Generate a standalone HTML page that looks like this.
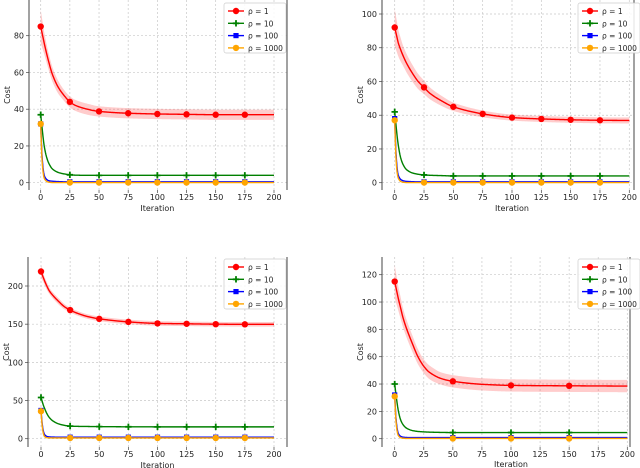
<!DOCTYPE html>
<html><head><meta charset="utf-8">
<style>
html,body{margin:0;padding:0;background:#fff;}
svg{display:block;font-family:"DejaVu Sans","Liberation Sans",sans-serif;}
</style></head>
<body>
<svg id="chart" width="640" height="468" viewBox="0 0 640 468" xmlns="http://www.w3.org/2000/svg"></svg>
<script>
const ITER = [0,1,2,3,5,7,10,15,20,25,30,40,50,75,100,125,150,175,200];
const X_TICKS = [0,25,50,75,100,125,150,175,200];
const LEGEND_LABELS = ["ρ = 1","ρ = 10","ρ = 100","ρ = 1000"];

const P1_RED = [85,82,79,76,70.5,65.5,59,52,47.5,44,42,40,38.8,37.8,37.4,37.2,37,37,37];
const P1_GREEN = [37,31,25,20,14,10.5,7.5,5.6,4.8,4.3,4.1,4,4,4,4,4,4,4,4];
const P1_BLUE = [32,16,8,4,1.8,1.1,0.8,0.6,0.5,0.5,0.5,0.5,0.5,0.5,0.5,0.5,0.5,0.5,0.5];
const P1_ORANGE = [32,14,6,2.5,0.8,0.3,0.1,0.1,0.1,0.1,0.1,0.1,0.1,0.1,0.1,0.1,0.1,0.1,0.1];
const P1_BAND = [9,8,7,6,5,4.5,4,3.5,3,3,3,3,2.8,2.8,2.8,2.8,2.8,2.8,2.8];
const P1_YTICKS = [0,20,40,60,80];

const P2_RED = [92,89,86,83,79,75.5,71,65,60,56.5,53,48.5,45,40.8,38.6,37.8,37.3,37,36.9];
const P2_GREEN = [42,35,28,22.5,15,11,7.8,5.8,5,4.6,4.4,4.2,4,4,4,4,4,4,4];
const P2_BLUE = [38,19,9,4.5,2,1.2,0.8,0.6,0.5,0.5,0.5,0.5,0.5,0.5,0.5,0.5,0.5,0.5,0.5];
const P2_ORANGE = [37,16,6.5,2.8,0.8,0.3,0.1,0.1,0.1,0.1,0.1,0.1,0.1,0.1,0.1,0.1,0.1,0.1,0.1];
const P2_BAND = [11,10,9,8,7,6,5.5,5,4.5,4,3.5,3,2.5,2,1.8,1.8,1.8,1.8,1.8];
const P2_YTICKS = [0,20,40,60,80,100];

const P3_RED = [219,215,211,207,200,194,188,180,173,168.5,165,160,157,153,151,150.5,150,149.8,149.8];
const P3_GREEN = [54,49,44,40,33,28,23.5,19.5,17.5,16.5,16.2,16,15.8,15.6,15.5,15.5,15.5,15.5,15.5];
const P3_BLUE = [37,20,10,5.5,3,2.4,2.1,2,2,2,2,2,2,2,2,2,2,2,2];
const P3_ORANGE = [36,17,7,3,1.4,1.1,1,1,1,1,1,1,1,1,1,1,1,1,1];
const P3_BAND = [8,7,6,5,5,4,4,4,3.5,3,3,3,3,3,3,3,3,3,3];
const P3_YTICKS = [0,50,100,150,200];

const P4_RED = [115,111,107,103,96,89,81,70,60,53,48.5,44,42,39.8,39,38.8,38.7,38.6,38.5];
const P4_GREEN = [40,33,26.5,21,14,10.5,7.8,6,5.3,5,4.8,4.6,4.5,4.5,4.5,4.5,4.5,4.5,4.5];
const P4_BLUE = [32,16,8,4,1.8,1.2,0.9,0.8,0.8,0.8,0.8,0.8,0.8,0.8,0.8,0.8,0.8,0.8,0.8];
const P4_ORANGE = [31,14,6,2.5,0.8,0.4,0.2,0.2,0.2,0.2,0.2,0.2,0.2,0.2,0.2,0.2,0.2,0.2,0.2];
const P4_BAND = [12,11,10,9,8,7,6.5,6,5.5,5,5,4.5,4.5,4.5,4.5,4.5,4.5,4.5,4.5];
const P4_YTICKS = [0,20,40,60,80,100,120];

const NS = "http://www.w3.org/2000/svg";
const svg = document.getElementById('chart');
function mk(tag, attrs, parent){const e=document.createElementNS(NS,tag);for(const k in attrs)e.setAttribute(k,attrs[k]);(parent||svg).appendChild(e);return e;}

const panels = [
 {id:'tl', l:29,r:287,t:0,b:190, x0:40.7,x1:274, y0v:0,y0p:182.7,y1v:80,y1p:35.7, ticks:P1_YTICKS, d:[P1_RED,P1_GREEN,P1_BLUE,P1_ORANGE], band:P1_BAND, mstep:25, tickY:200, labY:211, leg:{x:224,y:3}},
 {id:'tr', l:382,r:634,t:0,b:190, x0:394.7,x1:629.3, y0v:0,y0p:182.7,y1v:100,y1p:14, ticks:P2_YTICKS, d:[P2_RED,P2_GREEN,P2_BLUE,P2_ORANGE], band:P2_BAND, mstep:25, tickY:200, labY:211, leg:{x:578,y:3}},
 {id:'bl', l:28,r:287,t:257,b:447, x0:41,x1:274, y0v:0,y0p:438.7,y1v:200,y1p:286, ticks:P3_YTICKS, d:[P3_RED,P3_GREEN,P3_BLUE,P3_ORANGE], band:P3_BAND, mstep:25, tickY:457, labY:468, leg:{x:224,y:259}},
 {id:'br', l:382,r:630,t:257,b:447, x0:394.7,x1:627.3, y0v:0,y0p:438.7,y1v:120,y1p:274.7, ticks:P4_YTICKS, d:[P4_RED,P4_GREEN,P4_BLUE,P4_ORANGE], band:P4_BAND, mstep:50, tickY:457, labY:467, leg:{x:578,y:259}}
];
const COLORS = ['#ff0000','#008000','#0000ff','#ffa500'];
const MARKS = ['circle','plus','square','circle'];

// monotone cubic interpolation
function interp(arr, it){
  const n=ITER.length;
  const dk=[],m=[];
  for(let i=0;i<n-1;i++)dk.push((arr[i+1]-arr[i])/(ITER[i+1]-ITER[i]));
  m.push(dk[0]);
  for(let i=1;i<n-1;i++){m.push(dk[i-1]*dk[i]<=0?0:2/(1/dk[i-1]+1/dk[i]));}
  m.push(dk[n-2]);
  for(let i=0;i<n-1;i++){
    if(it>=ITER[i]&&it<=ITER[i+1]){
      const h=ITER[i+1]-ITER[i],t=(it-ITER[i])/h;
      const h00=2*t*t*t-3*t*t+1,h10=t*t*t-2*t*t+t,h01=-2*t*t*t+3*t*t,h11=t*t*t-t*t;
      return h00*arr[i]+h10*h*m[i]+h01*arr[i+1]+h11*h*m[i+1];
    }
  }
  return arr[n-1];
}
function marker(g, kind, x, y, c){
  if(kind==='circle'){const m=mk('circle',{cx:x,cy:y,r:3.2,fill:c},g);}
  else if(kind==='square'){const m=mk('rect',{x:x-2.6,y:y-2.6,width:5.2,height:5.2,fill:c},g);}
  else {const m=mk('path',{d:`M${x-3.2},${y}H${x+3.2}M${x},${y-3.2}V${y+3.2}`,stroke:c,'stroke-width':1.8},g);}
}

panels.forEach(p=>{
  const sx=v=>p.x0+(v-0)/200*(p.x1-p.x0);
  const sy=v=>p.y0p+(v-p.y0v)/(p.y1v-p.y0v)*(p.y1p-p.y0p);
  const g=mk('g',{});
  
  
  const clipId='clip-'+p.id;
  const cp=mk('clipPath',{id:clipId},g); mk('rect',{x:p.l,y:p.t,width:p.r-p.l,height:p.b-p.t},cp);
  X_TICKS.forEach(v=>{const ln=mk('line',{x1:sx(v),x2:sx(v),y1:p.t,y2:p.b,stroke:'#c8c8c8','stroke-width':0.7,'stroke-dasharray':'2,2'},g);
    mk('line',{x1:sx(v),x2:sx(v),y1:p.b,y2:p.b+3,stroke:'#444','stroke-width':0.7},g);
    const t=mk('text',{x:sx(v),y:p.tickY,'font-size':8,'text-anchor':'middle',fill:'#222'},g);t.textContent=v;});
  p.ticks.forEach(v=>{const ln=mk('line',{x1:p.l,x2:p.r,y1:sy(v),y2:sy(v),stroke:'#c8c8c8','stroke-width':0.7,'stroke-dasharray':'2,2'},g);
    mk('line',{x1:p.l-3,x2:p.l,y1:sy(v),y2:sy(v),stroke:'#444','stroke-width':0.7},g);
    const t=mk('text',{x:p.l-5,y:sy(v)+3,'font-size':8,'text-anchor':'end',fill:'#222'},g);t.textContent=v;});
  mk('line',{x1:p.l,x2:p.l,y1:p.t,y2:p.b,stroke:'#444','stroke-width':1},g);
  mk('line',{x1:p.r,x2:p.r,y1:p.t,y2:p.b,stroke:'#444','stroke-width':1},g);
  const xl=mk('text',{x:(p.x0+p.x1)/2,y:p.labY,'font-size':8,'text-anchor':'middle',fill:'#222'},g);xl.textContent='Iteration';
  const yx=p.l-19, yy=(p.t+p.b)/2;
  const yl=mk('text',{x:yx,y:yy,'font-size':8,'text-anchor':'middle',fill:'#222',transform:`rotate(-90 ${yx} ${yy})`},g);yl.textContent='Cost';
  const pg=mk('g',{'clip-path':`url(#${clipId})`},g);
  const dense=[];for(let it=0;it<=200;it+=0.5)dense.push(it);
  const red=p.d[0];
  let up=dense.map(it=>`${sx(it)},${sy(interp(red,it)+interp(p.band,it))}`);
  let lo=dense.slice().reverse().map(it=>`${sx(it)},${sy(interp(red,it)-interp(p.band,it))}`);
  const band=mk('polygon',{points:up.concat(lo).join(' '),fill:'#ff0000','fill-opacity':0.2},pg);
  
  p.d.forEach((arr,si)=>{
    const pts=dense.map(it=>`${sx(it)},${sy(interp(arr,it))}`).join(' ');
    const pl=mk('polyline',{points:pts,fill:'none',stroke:COLORS[si],'stroke-width':1.4},pg);
    
  });
  p.d.forEach((arr,si)=>{
    for(let it=0;it<200;it+=p.mstep){marker(pg,MARKS[si],sx(it),sy(interp(arr,it)),COLORS[si]);}
  });
  const lg=mk('g',{},g);
  mk('rect',{x:p.leg.x,y:p.leg.y,width:62,height:50,rx:2,fill:'#fff','fill-opacity':0.85,stroke:'#ccc','stroke-width':0.7},lg);
  LEGEND_LABELS.forEach((lab,i)=>{
    const y=p.leg.y+8+i*12.3;
    const e=mk('g',{},lg);
    mk('line',{x1:p.leg.x+4,x2:p.leg.x+20,y1:y,y2:y,stroke:COLORS[i],'stroke-width':1.4},e);
    marker(e,MARKS[i],p.leg.x+12,y,COLORS[i]);
    const t=mk('text',{x:p.leg.x+24,y:y+3,'font-size':7.5,fill:'#222'},e);t.textContent=lab;
  });
});
</script>
</body></html>
